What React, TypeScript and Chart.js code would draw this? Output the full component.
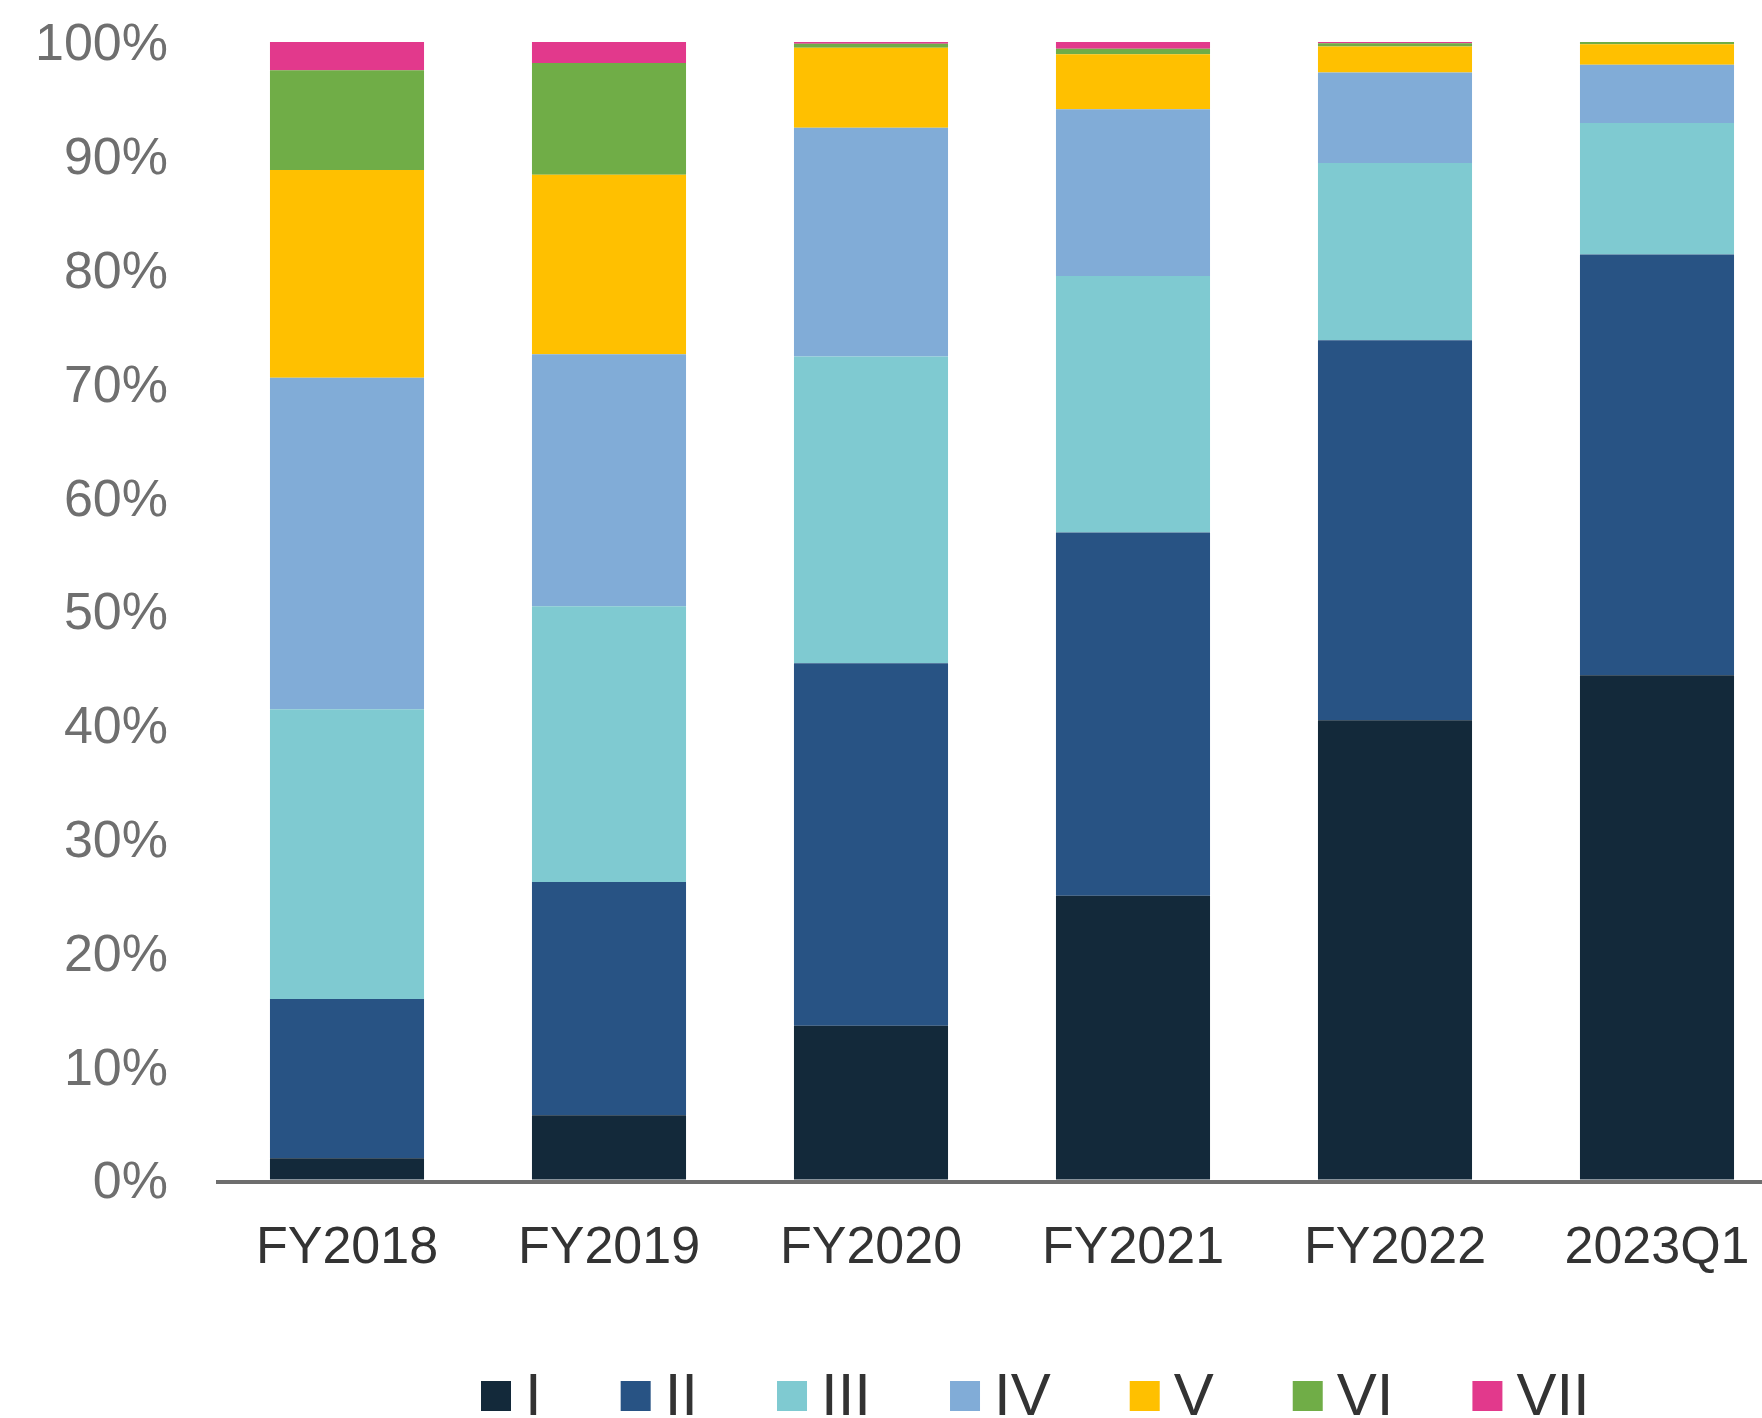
import React, { useEffect, useRef } from "react";
import { Chart, registerables } from "chart.js";

Chart.register(...registerables);

const categories = ["FY2018", "FY2019", "FY2020", "FY2021", "FY2022", "2023Q1"];
const seriesNames = ["I", "II", "III", "IV", "V", "VI", "VII"];
const seriesI = [1.92, 5.7, 13.56, 24.98, 40.4, 44.35];
const seriesII = [13.98, 20.48, 31.85, 31.92, 33.4, 36.98];
const seriesIII = [25.46, 24.24, 26.96, 22.53, 15.56, 11.55];
const seriesIV = [29.13, 22.15, 20.1, 14.65, 7.97, 5.12];
const seriesV = [18.26, 15.76, 7.03, 4.84, 2.27, 1.8];
const seriesVI = [8.76, 9.82, 0.35, 0.48, 0.3, 0.2];
const seriesVII = [2.49, 1.85, 0.15, 0.6, 0.1, 0];
const yTicks = [0, 10, 20, 30, 40, 50, 60, 70, 80, 90, 100];

const seriesValues = [seriesI, seriesII, seriesIII, seriesIV, seriesV, seriesVI, seriesVII];
const colors = ["#13293a", "#285384", "#7fcad1", "#81acd7", "#ffc000", "#70ad47", "#e2398c"];

const FONT = "'Liberation Sans', Arial, sans-serif";

const axisLinePlugin = {
  id: "axisLine",
  afterDatasetsDraw(chart: any) {
    const { ctx, chartArea } = chart;
    ctx.save();
    ctx.strokeStyle = "#6e6e6e";
    ctx.lineWidth = 4;
    ctx.beginPath();
    ctx.moveTo(chartArea.left, chartArea.bottom + 2);
    ctx.lineTo(chart.width, chartArea.bottom + 2);
    ctx.stroke();
    ctx.restore();
  },
};

const legendPlugin = {
  id: "customLegend",
  afterDraw(chart: any) {
    const { ctx } = chart;
    ctx.save();
    ctx.font = `60px ${FONT}`;
    ctx.textBaseline = "alphabetic";
    ctx.textAlign = "left";
    let x = 481;
    const boxTop = 1381;
    const box = 30;
    chart.data.datasets.forEach((ds: any) => {
      ctx.fillStyle = ds.backgroundColor;
      ctx.fillRect(x, boxTop, box, box);
      ctx.fillStyle = "#333333";
      const tx = x + 44;
      ctx.fillText(ds.label, tx, 1415);
      x = tx + ctx.measureText(ds.label).width + 79;
    });
    ctx.restore();
  },
};

export default function App() {
  const ref = useRef<HTMLCanvasElement | null>(null);

  useEffect(() => {
    if (!ref.current) return;
    const chart = new Chart(ref.current, {
      type: "bar",
      data: {
        labels: categories,
        datasets: seriesNames.map((name, i) => ({
          label: name,
          data: seriesValues[i],
          backgroundColor: colors[i],
          borderWidth: 0,
          barPercentage: 1,
          categoryPercentage: 0.588,
        })),
      },
      options: {
        responsive: false,
        animation: false,
        layout: { padding: { top: 42, left: 0, right: 0, bottom: 0 } },
        plugins: {
          legend: { display: false },
          tooltip: { enabled: false },
        },
        scales: {
          x: {
            stacked: true,
            grid: { display: false, drawTicks: false },
            border: { display: false },
            ticks: {
              color: "#333333",
              font: { family: FONT, size: 52 },
              padding: 37,
              maxRotation: 0,
              autoSkip: false,
            },
            afterFit(scale: any) {
              scale.height = 238;
            },
          },
          y: {
            stacked: true,
            min: 0,
            max: 100,
            grid: {
              display: true,
              drawOnChartArea: false,
              drawTicks: true,
              tickLength: 48,
              color: "rgba(0,0,0,0)",
            },
            border: { display: false },
            afterBuildTicks(scale: any) {
              scale.ticks = yTicks.map((v) => ({ value: v }));
            },
            ticks: {
              color: "#6f6f6f",
              font: { family: FONT, size: 52 },
              padding: 0,
              labelOffset: 4,
              callback: (v: any) => `${v}%`,
            },
            afterFit(scale: any) {
              scale.width = 216;
            },
          },
        },
      },
      plugins: [axisLinePlugin, legendPlugin],
    });
    return () => chart.destroy();
  }, []);

  return (
    <div
      style={{
        position: "fixed",
        left: 0,
        top: 0,
        width: 1762,
        height: 1418,
        overflow: "hidden",
        background: "#ffffff",
      }}
    >
      <canvas ref={ref} width={1788} height={1418} style={{ width: 1788, height: 1418, display: "block" }} />
    </div>
  );
}
